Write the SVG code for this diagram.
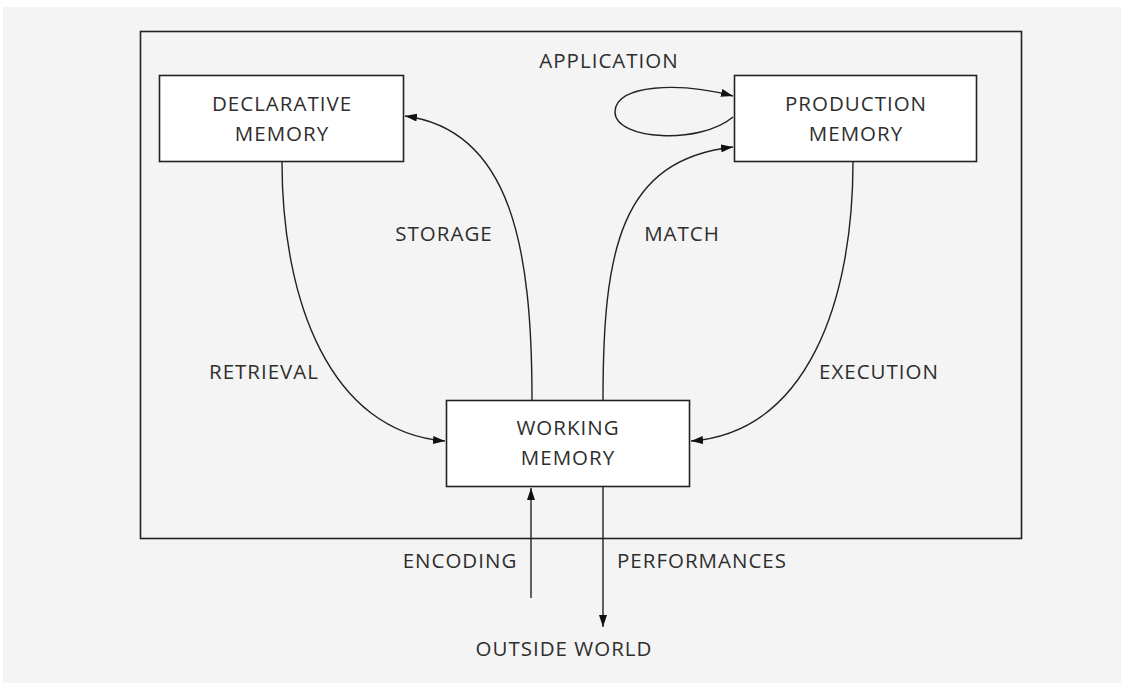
<svg xmlns="http://www.w3.org/2000/svg" width="1127" height="688" viewBox="0 0 1127 688">
<defs>
<marker id="ah" viewBox="0 0 12 8" refX="12" refY="4" markerWidth="12" markerHeight="8" markerUnits="userSpaceOnUse" orient="auto">
<path d="M0,0 L12,4 L0,8 Z" fill="#111"/>
</marker>
<style>
.box{fill:#fff;stroke:#222;stroke-width:1.6}
.t{font-family:"Open Sans","Noto Sans",sans-serif;font-size:20.5px;letter-spacing:1px;fill:#2e2e2e;text-anchor:middle}
.c{fill:none;stroke:#222;stroke-width:1.4}
</style>
</defs>
<rect x="0" y="0" width="1127" height="688" fill="#fff"/>
<rect x="3" y="7" width="1118" height="676" fill="#f4f4f4"/>
<rect x="140.5" y="31.5" width="881" height="507" fill="none" stroke="#222" stroke-width="1.6"/>
<g id="declarative">
<rect class="box" x="159.5" y="75.5" width="244" height="86"/>
<text class="t" x="282" y="111">DECLARATIVE</text>
<text class="t" x="282" y="141">MEMORY</text>
</g>
<g id="production">
<rect class="box" x="734.5" y="75.5" width="242" height="86"/>
<text class="t" x="856" y="111">PRODUCTION</text>
<text class="t" x="856" y="141">MEMORY</text>
</g>
<g id="working">
<rect class="box" x="446.5" y="400.5" width="243" height="86"/>
<text class="t" x="568" y="435">WORKING</text>
<text class="t" x="568" y="465">MEMORY</text>
</g>
<g id="connectors">
<path class="c" marker-end="url(#ah)" d="M282,162 C282,300 330,432 445,441"/>
<path class="c" marker-end="url(#ah)" d="M532,400 C532,250 512,130 405,116"/>
<path class="c" marker-end="url(#ah)" d="M603,400 C603,250 620,160 733,147"/>
<path class="c" marker-end="url(#ah)" d="M853,162 C853,300 808,432 691,441"/>
<path class="c" marker-end="url(#ah)" d="M733,117 C700,145 615,140 615,112 C615,84 680,82 733,96"/>
<path class="c" marker-end="url(#ah)" d="M531,598 L531,488"/>
<path class="c" marker-end="url(#ah)" d="M603,487 L603,627"/>
</g>
<g id="labels">
<text class="t" x="609" y="68">APPLICATION</text>
<text class="t" x="444" y="241">STORAGE</text>
<text class="t" x="682" y="241">MATCH</text>
<text class="t" x="264" y="379">RETRIEVAL</text>
<text class="t" x="879" y="379">EXECUTION</text>
<text class="t" x="460" y="568">ENCODING</text>
<text class="t" x="702" y="568">PERFORMANCES</text>
<text class="t" x="564" y="656">OUTSIDE WORLD</text>
</g>
</svg>
